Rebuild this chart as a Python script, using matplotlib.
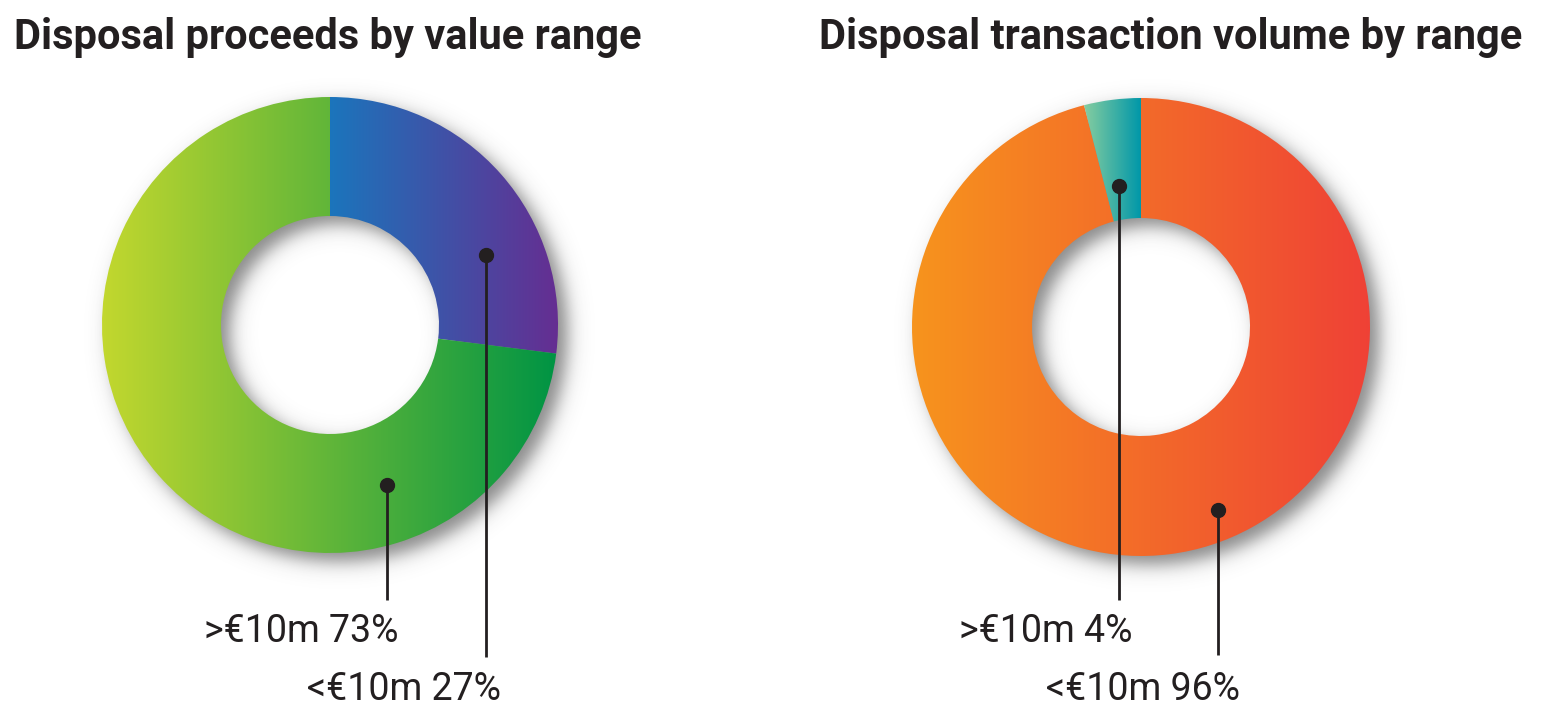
import numpy as np
import matplotlib
matplotlib.use("Agg")
import matplotlib.pyplot as plt
from matplotlib.patches import Wedge
from matplotlib.colors import LinearSegmentedColormap

# data
titles = ["Disposal proceeds by value range", "Disposal transaction volume by range"]
proceeds_labels = ["<€10m", ">€10m"]
proceeds_share = [27, 73]
volume_labels = ["<€10m", ">€10m"]
volume_share = [96, 4]

proceeds_colors = [("#1b75bc", "#662d91"), ("#c4d82e", "#009444")]
volume_colors = [("#f7941d", "#ef4136"), ("#86cda0", "#0097a9")]

W, H = 1548, 724
TXT = "#231f20"

fig = plt.figure(figsize=(W / 100, H / 100), dpi=100)
ax = fig.add_axes([0, 0, 1, 1])
ax.set_xlim(0, W)
ax.set_ylim(0, H)
ax.set_aspect("equal")
ax.axis("off")


def ring_shadow(cx, cy, r_out, r_in, dx=9, dy=-9, s=11.0, amax=0.62):
    pad = 70
    x0, x1 = cx - r_out - pad, cx + r_out + pad
    y0, y1 = cy - r_out - pad, cy + r_out + pad
    xs = np.arange(x0, x1)
    ys = np.arange(y0, y1)
    X, Y = np.meshgrid(xs, ys)
    r = np.hypot(X - (cx + dx), Y - (cy + dy))
    a = 0.25 * (1 + np.tanh((r_out - r) / s)) * (1 + np.tanh((r - r_in) / s))
    img = np.zeros(X.shape + (4,))
    img[..., :3] = 0.25
    img[..., 3] = amax * a
    ax.imshow(img, extent=(x0, x1, y0, y1), origin="lower", zorder=1,
              interpolation="bilinear")


def donut(cx, cy, r_out, r_in, shares, colors):
    ring_shadow(cx, cy, r_out, r_in)
    start = 90.0
    for v, (c0, c1) in zip(shares, colors):
        t1 = start - 360.0 * v / 100.0
        w = Wedge((cx, cy), r_out, t1, start, width=r_out - r_in,
                  facecolor="none", edgecolor="none")
        ax.add_patch(w)
        vx = w.get_path().vertices[:, 0]
        cmap = LinearSegmentedColormap.from_list("g", [c0, c1])
        grad = np.linspace(0, 1, 256)[None, :]
        im = ax.imshow(grad, cmap=cmap, aspect="auto",
                       extent=(vx.min(), vx.max(), cy - r_out, cy + r_out),
                       zorder=2, interpolation="bilinear")
        im.set_clip_path(w)
        start = t1


def leader(cx, cy, ang, rad, y_end, text, y_text, dx_text):
    px = cx + rad * np.cos(np.radians(ang))
    py = cy + rad * np.sin(np.radians(ang))
    ax.plot([px, px], [py, y_end], color=TXT, lw=2, zorder=3,
            solid_capstyle="butt")
    ax.plot(px, py, "o", color=TXT, ms=10, zorder=4)
    ax.text(px + dx_text, y_text, text, ha="right", va="center",
            fontsize=27, color=TXT, family="Roboto")


# left chart
lc = (330, H - 325)
donut(lc[0], lc[1], 228, 109, proceeds_share, proceeds_colors)
ax.text(14, H - 37, titles[0], ha="left", va="center", fontsize=30,
        fontweight="bold", color=TXT, family="Roboto")
leader(lc[0], lc[1], 24.2, 171, H - 657,
       f"{proceeds_labels[0]} {proceeds_share[0]}%", H - 690, 15)
leader(lc[0], lc[1], -70.4, 170, H - 600,
       f"{proceeds_labels[1]} {proceeds_share[1]}%", H - 632, 11)

# right chart
rc = (1141, H - 327)
donut(rc[0], rc[1], 229, 109, volume_share, volume_colors)
ax.text(1522, H - 37, titles[1], ha="right", va="center", fontsize=30,
        fontweight="bold", color=TXT, family="Roboto")
leader(rc[0], rc[1], -67.2, 198.5, H - 655,
       f"{volume_labels[0]} {volume_share[0]}%", H - 690, 22)
leader(rc[0], rc[1], 98.9, 142.7, H - 600,
       f"{volume_labels[1]} {volume_share[1]}%", H - 632, 14)

fig.savefig("out.png", dpi=100, facecolor="white")
